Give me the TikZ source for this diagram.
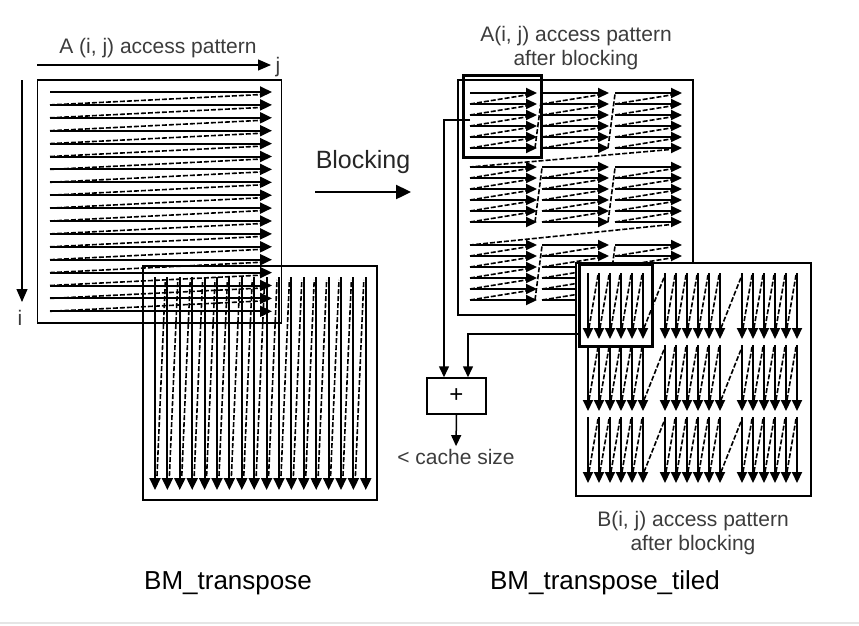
\documentclass[tikz,border=0pt]{standalone}
\usepackage{fontspec}
\setmainfont{Liberation Sans}
\usepackage{tikz}
\usetikzlibrary{positioning,arrows.meta,calc}
\definecolor{LabelGray}{RGB}{60,60,60}

\begin{document}
\begin{tikzpicture}[
    x=1pt, y=-1pt,
    matbox/.style={rectangle, draw, line width=1.5pt, inner sep=0pt},
    hibox/.style={rectangle, draw, line width=3pt, inner sep=0pt},
    rowarrow/.style={draw, line width=2pt, -{Triangle[length=12pt,width=11pt]}},
    tilearrow/.style={draw, line width=2pt, -{Triangle[length=11pt,width=10pt]}},
    retline/.style={draw, line width=1.6pt, dash pattern=on 5pt off 2pt},
    axis/.style={draw, line width=1.2pt, -{Triangle[length=13pt,width=11pt]}},
    line/.style={draw, line width=1.5pt, -{Triangle[length=11pt,width=10pt]}},
    lbl/.style={font=\fontsize{21}{24}\selectfont, text=LabelGray, inner sep=0pt, align=center},
    title/.style={font=\fontsize{26}{30}\selectfont, inner sep=0pt}
]
\useasboundingbox (0,0) rectangle (859,625);

% Left: A(i,j) row-wise access
\node [matbox, minimum width=244pt, minimum height=243pt] (amat) at (159.5,201.5) {};
\node [lbl] (atitle) at (158,48) {A (i, j) access pattern};
\node [lbl] (jlab) at (278,67) {j};
\node [lbl] (ilab) at (20,318) {i};
\coordinate (j0) at (37,65);
\coordinate (j1) at (271,65);
\coordinate (i0) at (22,80);
\coordinate (i1) at (22,302);
\draw [axis] (j0) -- (j1);
\draw [axis] (i0) -- (i1);
\foreach \k in {0,...,17} {
    \pgfmathsetmacro{\yy}{92+12.9*\k}
    \draw [rowarrow] (50,\yy) -- (272,\yy);
}
\foreach \k in {0,...,16} {
    \pgfmathsetmacro{\yy}{92+12.9*\k}
    \pgfmathsetmacro{\yn}{92+12.9*(\k+1)}
    \draw [retline] (50,\yn) -- (262,\yy+2.5);
}

% Left: B(i,j) column-wise access
\node [matbox, minimum width=234pt, minimum height=234pt] (bmat) at (260,383) {};
\foreach \c in {0,...,17} {
    \pgfmathsetmacro{\xx}{155+12.4*\c}
    \draw [rowarrow] (\xx,277) -- (\xx,490);
}
\foreach \c in {0,...,16} {
    \pgfmathsetmacro{\xx}{155+12.4*\c}
    \pgfmathsetmacro{\xn}{155+12.4*(\c+1)}
    \draw [retline] (\xx+2,476) -- (\xn-2,280);
}

% Blocking arrow
\node [lbl, font=\fontsize{25}{30}\selectfont, text=black!85] (blocking) at (363,162) {Blocking};
\coordinate (bl0) at (315,192);
\coordinate (bl1) at (411,192);
\draw [line, line width=2.4pt, -{Triangle[length=15pt,width=14pt]}] (bl0) -- (bl1);

% Right: A after blocking
\node [matbox, minimum width=235pt, minimum height=235pt] (ablk) at (575.5,197.5) {};
\node [lbl] (abtitle) at (576,48) {A(i, j) access pattern\\after blocking};
\foreach \bi/\ys in {0/93,1/167,2/245} {
    \foreach \bj/\xs in {0/470,1/542,2/615} {
        \foreach \r in {0,...,5} {
            \draw [tilearrow] (\xs,\ys+11*\r) -- (\xs+67,\ys+11*\r);
        }
        \foreach \r in {0,...,4} {
            \draw [retline] (\xs,\ys+11*\r+11) -- (\xs+56,\ys+11*\r+2);
        }
    }
    \draw [retline] (535,\ys+55) -- (542,\ys+1);
    \draw [retline] (608,\ys+55) -- (615,\ys+1);
}
\draw [retline] (676,149) -- (470,167);
\draw [retline] (676,224) -- (470,245);

% Right: B after blocking
\node [matbox, fill=white, minimum width=235pt, minimum height=233pt] (bblk) at (693.5,379.5) {};
\node [lbl] (bbtitle) at (693,533) {B(i, j) access pattern\\after blocking};
\foreach \ys in {273,345,417} {
    \foreach \xs in {588,665,742} {
        \foreach \c in {0,...,5} {
            \draw [tilearrow] (\xs+11*\c,\ys) -- (\xs+11*\c,\ys+66);
        }
        \foreach \c in {0,...,4} {
            \draw [retline] (\xs+11*\c+1,\ys+55) -- (\xs+11*\c+10,\ys+2);
        }
    }
    \draw [retline] (644,\ys+55) -- (665,\ys+2);
    \draw [retline] (721,\ys+55) -- (742,\ys+2);
}

% Highlighted tiles
\node [hibox, minimum width=78pt, minimum height=82pt] (ahi) at (502,116) {};
\node [hibox, minimum width=73pt, minimum height=82pt] (bhi) at (615.5,305) {};

% Adder and connectors
\node [matbox, minimum width=59pt, minimum height=36pt, font=\fontsize{24}{28}\selectfont] (plus) at (456.5,396) {+};
\node [lbl] (cache) at (456,457) {< cache size};
\coordinate (aout) at (470,120);
\coordinate (bout) at (579,334);
\draw [line] (aout) -| ([xshift=-12.5pt]plus.north);
\draw [line] (bout) -| ([xshift=11.5pt]plus.north);
\draw [line] (plus.south) -- ([yshift=3pt]cache.north);

% Captions
\node [title] (capl) at (228,583) {BM\_transpose};
\node [title] (capr) at (605,583) {BM\_transpose\_tiled};
\draw [gray!20, line width=2pt] (0,623) -- (859,623);
\end{tikzpicture}
\end{document}
